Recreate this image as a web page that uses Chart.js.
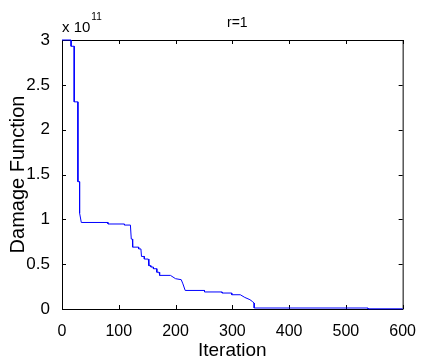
<!DOCTYPE html>
<html>
<head>
<meta charset="utf-8">
<script src="https://cdn.jsdelivr.net/npm/chart.js@4.4.0/dist/chart.umd.min.js"></script>
<style>
  html, body { margin: 0; padding: 0; background: #fff; }
  #wrap { width: 421px; height: 360px; }
</style>
</head>
<body>
<div id="wrap"><canvas id="chart"></canvas></div>
<script>
// iteration number at each corner of the curve
const iterations = [
    0, 16, 16, 21.5, 21.5, 28, 28, 31, 31, 34,
    81, 81, 110, 110, 120.5, 122, 124, 124.5, 135, 135,
    139, 140, 145, 145, 152, 153, 156.5, 156.5, 161, 161,
    167, 167, 171, 172, 191, 200, 210, 213, 217, 251,
    251, 282, 282, 299, 299, 314, 322, 331, 336, 338.5,
    338.5, 539, 539, 600
];
// damage function, in units of 1e11
const damage = [
    3.0, 3.0, 2.93, 2.93, 2.31, 2.31, 1.42, 1.42, 1.07, 0.965,
    0.965, 0.948, 0.948, 0.936, 0.936, 0.78, 0.78, 0.69, 0.69, 0.67,
    0.67, 0.586, 0.586, 0.557, 0.557, 0.483, 0.483, 0.468, 0.468, 0.449,
    0.449, 0.41, 0.41, 0.375, 0.375, 0.338, 0.327, 0.28, 0.207, 0.207,
    0.19, 0.19, 0.178, 0.178, 0.159, 0.159, 0.129, 0.104, 0.08, 0.067,
    0.011, 0.011, 0.002, 0.002
];
const xTicks = [0, 100, 200, 300, 400, 500, 600];
const yTicks = [0, 0.5, 1, 1.5, 2, 2.5, 3];
const titleText = "r=1";
const exponent = "11";

Chart.defaults.font.family = "'Liberation Sans', Arial, Helvetica, sans-serif";
Chart.defaults.color = "#000";

/**
 * Box round the plot with inward ticks on all four sides, plus the
 * title and the x 10^11 multiplier
 */
const matlabAxes = {
    id: "matlabAxes",
    beforeDatasetsDraw(chart) {
        const { ctx, chartArea: a, scales } = chart;
        const len = 4;
        ctx.save();
        ctx.strokeStyle = "#000";
        ctx.lineWidth = 1;
        ctx.beginPath();
        ctx.rect(a.left + 0.5, a.top + 0.5, a.right - a.left, a.bottom - a.top);
        xTicks.forEach(v => {
            const px = Math.round(scales.x.getPixelForValue(v)) + 0.5;
            ctx.moveTo(px, a.bottom);
            ctx.lineTo(px, a.bottom - len);
            ctx.moveTo(px, a.top);
            ctx.lineTo(px, a.top + len);
        });
        yTicks.forEach(v => {
            const py = Math.round(scales.y.getPixelForValue(v)) + 0.5;
            ctx.moveTo(a.left, py);
            ctx.lineTo(a.left + len, py);
            ctx.moveTo(a.right, py);
            ctx.lineTo(a.right - len, py);
        });
        ctx.stroke();
        ctx.restore();
    },
    afterDraw(chart) {
        const { ctx, chartArea: a } = chart;
        ctx.save();
        ctx.fillStyle = "#000";
        ctx.textBaseline = "alphabetic";
        ctx.font = "14px 'Liberation Sans', Arial, sans-serif";
        ctx.textAlign = "center";
        ctx.fillText(titleText, (a.left + a.right) / 2 + 5, 27);
        ctx.textAlign = "left";
        ctx.font = "15px 'Liberation Sans', Arial, sans-serif";
        ctx.fillText("x 10", a.left, 32);
        const w = ctx.measureText("x 10").width;
        ctx.font = "10px 'Liberation Sans', Arial, sans-serif";
        ctx.fillText(exponent, a.left + w + 1, 20);
        ctx.restore();
    }
};

new Chart(document.getElementById("chart"), {
    type: "line",
    data: {
        datasets: [{
            data: iterations.map((x, i) => ({ x: x, y: damage[i] })),
            borderColor: "#0000ff",
            borderWidth: 1,
            pointRadius: 0,
            tension: 0,
            fill: false,
            clip: false,
        }],
    },
    options: {
        responsive: true,
        maintainAspectRatio: false,
        animation: false,
        layout: { padding: { top: 40, right: 15, left: 0, bottom: 0 } },
        plugins: { legend: { display: false }, tooltip: { enabled: false } },
        scales: {
            x: {
                type: "linear",
                min: 0,
                max: 600,
                afterBuildTicks: s => { s.ticks = xTicks.map(v => ({ value: v })); },
                ticks: { font: { size: 16 }, padding: 5, maxRotation: 0, callback: v => String(v) },
                grid: { display: false },
                border: { display: false },
                title: { display: true, text: "Iteration", font: { size: 19, lineHeight: 1 }, padding: 0 },
                afterFit: s => { s.height = 51; },
            },
            y: {
                type: "linear",
                min: 0,
                max: 3,
                afterBuildTicks: s => { s.ticks = yTicks.map(v => ({ value: v })); },
                ticks: { font: { size: 17 }, padding: 4, callback: v => String(v) },
                grid: { display: false },
                border: { display: false },
                title: { display: true, text: "Damage Function", font: { size: 20 }, padding: { top: 6, bottom: 0 } },
                afterFit: s => { s.width = 62; },
            },
        },
    },
    plugins: [matlabAxes],
});
</script>
</body>
</html>
